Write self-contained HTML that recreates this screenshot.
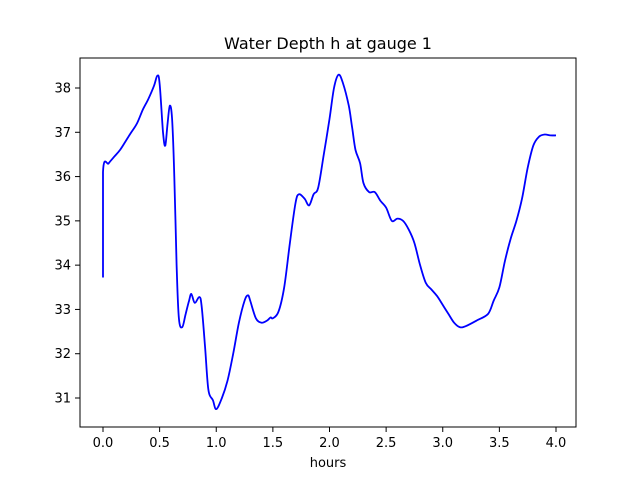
<!DOCTYPE html>
<html><head><meta charset="utf-8"><style>body{margin:0;background:#fff}svg{display:block;font-family:"DejaVu Sans","Liberation Sans",sans-serif}</style></head>
<body>
<svg id="c" width="640" height="480"></svg>
<script>
const xs=[0,0,0.05,0.1,0.15,0.2,0.25,0.3,0.35,0.4,0.45,0.48,0.5,0.53,0.55,0.57,0.59,0.61,0.63,0.65,0.67,0.7,0.73,0.76,0.78,0.81,0.85,0.87,0.9,0.93,0.97,1.0,1.05,1.1,1.15,1.2,1.25,1.28,1.3,1.35,1.4,1.45,1.48,1.5,1.55,1.6,1.65,1.7,1.73,1.78,1.82,1.86,1.9,1.95,2.0,2.04,2.08,2.12,2.17,2.2,2.23,2.27,2.3,2.35,2.4,2.45,2.5,2.55,2.6,2.65,2.7,2.75,2.8,2.85,2.9,2.95,3.0,3.05,3.1,3.15,3.2,3.3,3.4,3.45,3.5,3.55,3.6,3.65,3.7,3.75,3.8,3.85,3.9,3.95,4.0];
const ys=[33.72,36.1,36.3,36.45,36.6,36.8,37.0,37.2,37.5,37.75,38.05,38.28,38.1,37.0,36.7,37.2,37.6,37.3,36.0,34.0,32.8,32.6,32.9,33.2,33.35,33.15,33.28,33.1,32.2,31.2,30.95,30.75,31.0,31.4,32.0,32.7,33.2,33.32,33.2,32.8,32.7,32.75,32.82,32.8,32.95,33.5,34.5,35.4,35.6,35.5,35.35,35.6,35.75,36.5,37.3,38.0,38.3,38.1,37.6,37.1,36.6,36.3,35.85,35.65,35.65,35.45,35.3,35.0,35.05,35.0,34.8,34.5,34.0,33.6,33.45,33.3,33.1,32.9,32.7,32.6,32.62,32.75,32.9,33.2,33.5,34.1,34.6,35.0,35.5,36.2,36.7,36.9,36.95,36.93,36.93];
const xticks=[0,0.5,1,1.5,2,2.5,3,3.5,4];
const yticks=[31,32,33,34,35,36,37,38];
const L=80,R=576,T=58,B=427;
const sx=v=>103+v*113.25, sy=v=>88-(v-38)*44.286;
const svg=document.getElementById('c');const NS='http://www.w3.org/2000/svg';
function mk(t,a,txt){const e=document.createElementNS(NS,t);for(const k in a)e.setAttribute(k,a[k]);if(txt!=null)e.textContent=txt;svg.appendChild(e);return e;}
let e=mk('text',{x:328,y:49,'text-anchor':'middle','font-size':16},'Water Depth h at gauge 1');

const P=xs.map((x,i)=>[sx(x),sy(ys[i])]);
let d='M'+P[0][0].toFixed(1)+','+P[0][1].toFixed(1);
for(let i=0;i<P.length-1;i++){const p0=P[Math.max(i-1,0)],p1=P[i],p2=P[i+1],p3=P[Math.min(i+2,P.length-1)];
const c1=[p1[0]+(p2[0]-p0[0])/6,p1[1]+(p2[1]-p0[1])/6],c2=[p2[0]-(p3[0]-p1[0])/6,p2[1]-(p3[1]-p1[1])/6];
if(i===0){c1[0]=p1[0];c1[1]=p1[1];c2[0]=p2[0];c2[1]=p2[1];}
d+='C'+c1[0].toFixed(1)+','+c1[1].toFixed(1)+' '+c2[0].toFixed(1)+','+c2[1].toFixed(1)+' '+p2[0].toFixed(1)+','+p2[1].toFixed(1);}
e=mk('path',{d:d,fill:'none',stroke:'#0000ff','stroke-width':1.8,'stroke-linejoin':'round'});

e=mk('rect',{x:L,y:T,width:R-L,height:B-T,fill:'none',stroke:'#000','stroke-width':1});

xticks.forEach(v=>{const x=sx(v);
e=mk('line',{x1:x,x2:x,y1:B,y2:B+5,stroke:'#000'});
e=mk('text',{x:x,y:B+20,'text-anchor':'middle','font-size':13},v.toFixed(1));});
yticks.forEach(v=>{const y=sy(v);
e=mk('line',{x1:L-5,x2:L,y1:y,y2:y,stroke:'#000'});
e=mk('text',{x:L-9,y:y+4.5,'text-anchor':'end','font-size':13},String(v));});
e=mk('text',{x:328,y:467,'text-anchor':'middle','font-size':13},'hours');

</script>
</body></html>
